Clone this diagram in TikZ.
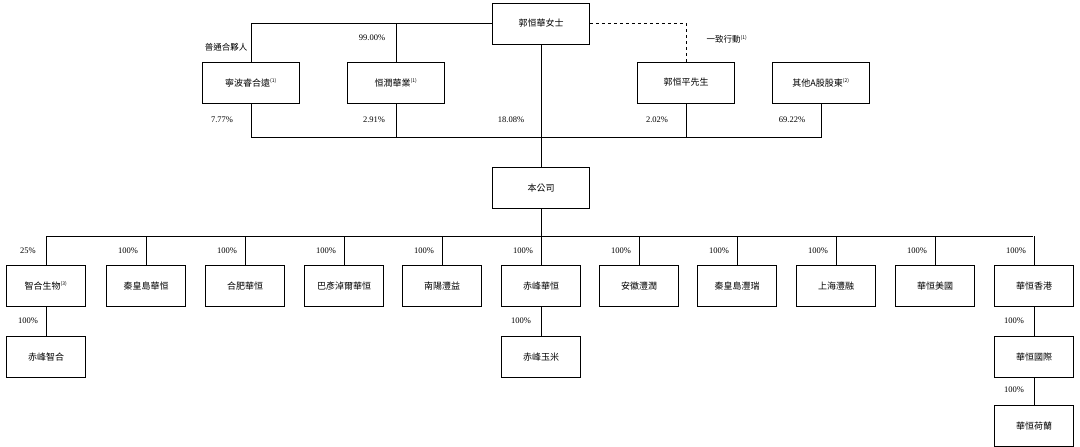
\documentclass[tikz,border=0pt]{standalone}
\usepackage{fontspec}
\setmainfont{Liberation Serif}
\newfontfamily\cjk{Noto Sans CJK TC}
\begin{document}
\begin{tikzpicture}[x=1pt,y=-1pt,
  bx/.style={draw,line width=0.7pt,minimum width=79pt,minimum height=41pt,inner sep=0pt,font=\cjk\fontsize{9}{10}\selectfont},
  bxw/.style={bx,minimum width=97pt},
  pct/.style={font=\fontsize{8.5}{10}\selectfont,inner sep=0pt},
  ln/.style={line width=0.6pt}]
\useasboundingbox (0,0) rectangle (1080,447);
% top
\node[bxw] (top) at (541,23.5) {郭恒華女士};
\node[bxw] (nb) at (251,82.5) {寧波睿合遠\textsuperscript{\tiny(1)}};
\node[bxw] (hr) at (396,82.5) {恒潤華業\textsuperscript{\tiny(1)}};
\node[bxw] (gp) at (686,82.5) {郭恒平先生};
\node[bxw] (qt) at (821,82.5) {其他A股股東\textsuperscript{\tiny(2)}};
\node[bxw] (co) at (541,188) {本公司};
\coordinate (tl) at (251,23.5);
\coordinate (tr) at (686,23.5);
\draw[ln] (top.west) -- (tl) -- (nb.north);
\draw[ln] (396,23.5) -- (hr.north);
\draw[ln,dashed] (top.east) -- (tr) -- (gp.north);
\draw[ln] (nb.south) -- (251,137) -- (821,137) -- (qt.south);
\draw[ln] (hr.south) -- (396,137);
\draw[ln] (gp.south) -- (686,137);
\draw[ln] (top.south) -- (co.north);
\node[font=\cjk\fontsize{8.5}{10}\selectfont,inner sep=0pt] (l1) at (226,47) {普通合夥人};
\node[pct] (l2) at (372,38) {99.00\%};
\node[font=\cjk\fontsize{8.5}{10}\selectfont,inner sep=0pt] (l3) at (727,39) {一致行動\textsuperscript{\tiny(1)}};
\node[pct] at (222,120) {7.77\%};
\node[pct] at (374,120) {2.91\%};
\node[pct] at (511,120) {18.08\%};
\node[pct] at (657,120) {2.02\%};
\node[pct] at (792,120) {69.22\%};
% bus
\coordinate (bl) at (46,236);
\coordinate (br) at (1033,236);
\draw[ln] (co.south) -- (541,236);
\draw[ln] (bl) -- (br);
\foreach \x/\t/\n/\p in {46/{智合生物\textsuperscript{\tiny(3)}}/c1/25\%,146/秦皇島華恒/c2/100\%,245/合肥華恒/c3/100\%,344/巴彥淖爾華恒/c4/100\%,442/南陽灃益/c5/100\%,541/赤峰華恒/c6/100\%,639/安徽灃潤/c7/100\%,737/秦皇島灃瑞/c8/100\%,836/上海灃融/c9/100\%,935/華恒美國/c10/100\%,1034/華恒香港/c11/100\%}{
  \node[bx] (\n) at (\x,286) {\t};
  \draw[ln] (\x,236) -- (\n.north);
  \node[pct] at (\x-18,251) {\p};
}
\node[bx] (d1) at (46,357) {赤峰智合};
\node[bx] (d6) at (541,357) {赤峰玉米};
\node[bx] (d11) at (1034,357) {華恒國際};
\node[bx] (e11) at (1034,426) {華恒荷蘭};
\draw[ln] (c1.south) -- (d1.north);
\draw[ln] (c6.south) -- (d6.north);
\draw[ln] (c11.south) -- (d11.north);
\draw[ln] (d11.south) -- (e11.north);
\node[pct] at (28,321) {100\%};
\node[pct] at (521,321) {100\%};
\node[pct] at (1014,321) {100\%};
\node[pct] at (1014,390) {100\%};
\end{tikzpicture}
\end{document}
